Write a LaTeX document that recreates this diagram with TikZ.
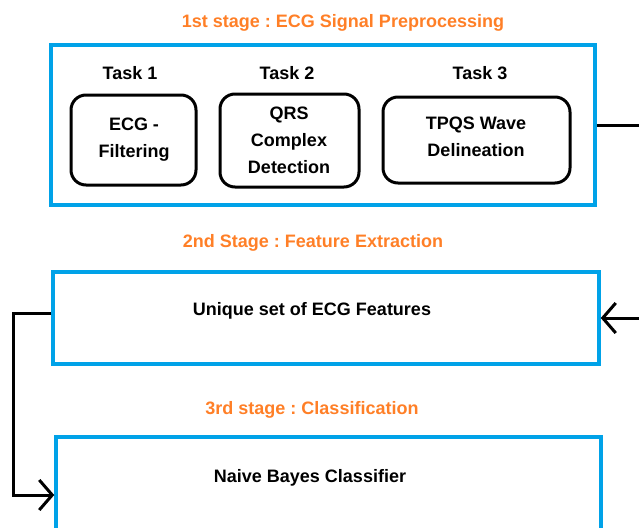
\documentclass[tikz,border=0pt]{standalone}
\usepackage{fontspec}
\setmainfont{Liberation Sans}
\usetikzlibrary{arrows.meta}
\definecolor{stageorange}{HTML}{FF7F27}
\definecolor{stageblue}{HTML}{00A2E8}
\frenchspacing
\tikzset{
  stagebox/.style={draw=stageblue, line width=3.5pt, inner sep=0pt, rectangle},
  taskbox/.style={draw=black, line width=3pt, rounded corners=15pt, inner sep=0pt, rectangle},
  txt/.style={font=\fontsize{18}{27}\selectfont\bfseries\frenchspacing, inner sep=0pt, align=center, text=black},
  stagetitle/.style={txt, text=stageorange},
  conn/.style={draw=black, line width=3pt},
  barb/.style={-{Straight Barb[length=13pt,width=30pt,line width=3pt]}}
}
\begin{document}
\begin{tikzpicture}[x=1pt,y=-1pt]
\useasboundingbox (0,0) rectangle (639,527);
\clip (0,0) rectangle (639,527);
% stage titles
\node[stagetitle] (t1) at (343,23) {1st stage : ECG Signal Preprocessing};
\node[stagetitle] (t2) at (313,243) {2nd Stage : Feature Extraction};
\node[stagetitle] (t3) at (312,410) {3rd stage : Classification};
% stage boxes
\node[stagebox, minimum width=544pt, minimum height=160pt] (box1) at (323,125) {};
\node[stagebox, minimum width=546pt, minimum height=92pt] (box2) at (326,318) {};
\node[stagebox, minimum width=545pt, minimum height=116pt] (box3) at (328.5,495) {};
% task labels
\node[txt] (l1) at (130,73) {Task 1};
\node[txt] (l2) at (287,73) {Task 2};
\node[txt] (l3) at (480,73) {Task 3};
% task boxes
\node[taskbox, minimum width=125pt, minimum height=90pt] (task1) at (133.5,140) {};
\node[taskbox, minimum width=139pt, minimum height=93pt] (task2) at (289.5,140.5) {};
\node[taskbox, minimum width=187pt, minimum height=86pt] (task3) at (476.5,140) {};
\node[txt] (x1) at (134,140) {ECG -\\Filtering};
\node[txt] (x2) at (289,140) {QRS\\Complex\\Detection};
\node[txt] (x3) at (476,137) {TPQS Wave\\Delineation};
% box texts
\node[txt] (f2) at (312,311) {Unique set of ECG Features};
\node[txt] (f3) at (310,478) {Naive Bayes Classifier};
% connectors
\coordinate (redge1) at (639,125);
\coordinate (redge2) at (639,318);
\coordinate (ledge) at (13,0);
\draw[conn] (box1.east) -- (redge1);
\draw[conn, barb] (redge2) -- (box2.east);
\draw[conn, barb] ([yshift=5pt]box2.west) -| (ledge |- box3.west) -- (box3.west);
\end{tikzpicture}
\end{document}
